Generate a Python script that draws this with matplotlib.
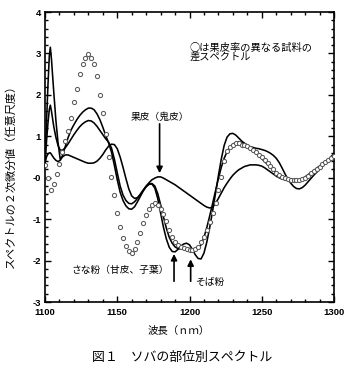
import matplotlib
matplotlib.use("Agg")
import matplotlib.pyplot as plt
import numpy as np

JP = ['Noto Sans CJK JP', 'DejaVu Sans']

# ---------------- data ----------------
line_x = [1100, 1101, 1102, 1103, 1103.7, 1104.5, 1106, 1107.5, 1109, 1110.5] + list(range(1112, 1301, 2))

# spectrum with the high spike near 1104 nm
curve_a = [0.4, 1.3, 2.2, 2.95, 3.15, 2.85, 2.1, 1.4, 0.85, 0.45,
           0.52, 0.75, 0.97, 1.15, 1.28, 1.4, 1.5, 1.58, 1.64, 1.68,
           1.68, 1.64, 1.54, 1.4, 1.22, 1.02, 0.84, 0.62, 0.3, -0.05,
           -0.35, -0.55, -0.68, -0.75, -0.76, -0.7, -0.58, -0.45, -0.32, -0.22,
           -0.16, -0.15, -0.25, -0.5, -0.85, -1.2, -1.48, -1.68, -1.78, -1.79,
           -1.73, -1.65, -1.6, -1.58, -1.62, -1.73, -1.86, -1.95, -1.96, -1.82,
           -1.55, -1.2, -0.8, -0.38, 0.05, 0.45, 0.78, 0.98, 1.06, 1.07,
           1.03, 0.96, 0.89, 0.83, 0.78, 0.75, 0.73, 0.71, 0.7, 0.68,
           0.66, 0.63, 0.59, 0.54, 0.47, 0.37, 0.24, 0.1, -0.03, -0.13,
           -0.21, -0.26, -0.27, -0.24, -0.18, -0.1, -0.02, 0.06, 0.13, 0.2,
           0.28, 0.36, 0.43, 0.51, 0.58]

# spectrum with the medium spike near 1104 nm
curve_b = [0.35, 0.85, 1.3, 1.65, 1.75, 1.6, 1.25, 0.98, 0.78, 0.67,
           0.66, 0.72, 0.82, 0.93, 1.04, 1.14, 1.23, 1.3, 1.35, 1.38,
           1.37, 1.32, 1.24, 1.14, 1.04, 0.94, 0.86, 0.72, 0.45, 0.12,
           -0.2, -0.42, -0.55, -0.62, -0.63, -0.58, -0.5, -0.4, -0.3, -0.21,
           -0.15, -0.14, -0.2, -0.38, -0.65, -0.95, -1.22, -1.44, -1.58, -1.67,
           -1.71, -1.72, -1.71, -1.7, -1.71, -1.74, -1.75, -1.72, -1.62, -1.44,
           -1.2, -0.92, -0.62, -0.32, -0.02, 0.25, 0.47, 0.63, 0.74, 0.81,
           0.85, 0.87, 0.86, 0.83, 0.79, 0.73, 0.67, 0.6, 0.53, 0.46,
           0.39, 0.32, 0.25, 0.18, 0.12, 0.07, 0.03, -0.01, -0.04, -0.06,
           -0.07, -0.07, -0.06, -0.03, 0.01, 0.06, 0.11, 0.17, 0.22, 0.27,
           0.32, 0.37, 0.42, 0.47, 0.52]

# hull (果皮) spectrum
curve_hull = [0.35, 0.5, 0.57, 0.6, 0.6, 0.56, 0.48, 0.42, 0.39, 0.42,
              0.5, 0.55, 0.55, 0.52, 0.49, 0.46, 0.43, 0.4, 0.37, 0.35,
              0.35, 0.36, 0.4, 0.47, 0.56, 0.67, 0.76, 0.81, 0.8, 0.7,
              0.5, 0.25, -0.02, -0.27, -0.44, -0.5, -0.48, -0.4, -0.3, -0.2,
              -0.12, -0.05, -0.01, 0.02, 0.02, -0.01, -0.05, -0.09, -0.13, -0.17,
              -0.22, -0.27, -0.32, -0.37, -0.42, -0.47, -0.52, -0.57, -0.62, -0.67,
              -0.71, -0.73, -0.71, -0.62, -0.5, -0.37, -0.24, -0.13, -0.03, 0.06,
              0.13, 0.19, 0.23, 0.27, 0.29, 0.31, 0.31, 0.31, 0.3, 0.28,
              0.24, 0.19, 0.14, 0.09, 0.04, 0.0, -0.03, -0.05, -0.07, -0.08,
              -0.08, -0.07, -0.05, -0.02, 0.02, 0.07, 0.12, 0.17, 0.23, 0.28,
              0.33, 0.38, 0.43, 0.49, 0.55]

# difference spectrum (circles)
diff_x = list(range(1100, 1301, 2))
diff_y = [0.3, 0.0, -0.3, -0.15, 0.08, 0.33, 0.62, 0.88, 1.12, 1.45,
          1.82, 2.15, 2.5, 2.75, 2.9, 2.98, 2.9, 2.74, 2.45, 2.0,
          1.56, 1.05, 0.51, 0.02, -0.42, -0.85, -1.2, -1.45, -1.66, -1.78,
          -1.81, -1.73, -1.55, -1.34, -1.1, -0.9, -0.76, -0.66, -0.62, -0.66,
          -0.75, -0.88, -1.05, -1.25, -1.42, -1.55, -1.63, -1.67, -1.7, -1.72,
          -1.74, -1.75, -1.73, -1.67, -1.56, -1.42, -1.26, -1.08, -0.85, -0.6,
          -0.3, 0.02, 0.4, 0.65, 0.74, 0.8, 0.83, 0.83, 0.8, 0.78,
          0.76, 0.72, 0.68, 0.62, 0.56, 0.5, 0.43, 0.36, 0.28, 0.2,
          0.12, 0.07, 0.02, -0.01, -0.04, -0.05, -0.06, -0.06, -0.06, -0.04,
          0.0, 0.05, 0.11, 0.16, 0.22, 0.27, 0.32, 0.37, 0.42, 0.47,
          0.52]

x_ticks = [1100, 1150, 1200, 1250, 1300]
y_ticks = [-3, -2, -1, 0, 1, 2, 3, 4]
y_tick_labels = ['-3', '-2', '-1', '-0', '1', '2', '3', '4']

# ---------------- figure ----------------
W, H = 352, 370
fig = plt.figure(figsize=(W / 100, H / 100), dpi=100)
fig.patch.set_facecolor('white')
ax = fig.add_axes([45 / W, 1 - 302 / H, (334 - 45) / W, (302 - 12) / H])

def fx(px):
    return px / W

def fy(py):
    return 1 - py / H

for yy in (curve_a, curve_b, curve_hull):
    ax.plot(line_x, yy, color='black', lw=1.15, solid_joinstyle='round', zorder=3)

ax.plot(diff_x, diff_y, linestyle='none', marker='o', markersize=3.0,
        markerfacecolor='white', markeredgecolor='#5a5a5a', markeredgewidth=0.75, zorder=4)

ax.set_xlim(1100, 1300)
ax.set_ylim(-3, 4)
ax.set_xticks(x_ticks)
ax.set_xticks(list(range(1100, 1301, 10)), minor=True)
ax.set_yticks(y_ticks)
ax.set_yticklabels(y_tick_labels)
ax.set_yticks(list(np.arange(-3, 4.01, 0.2)), minor=True)
ax.tick_params(which='both', direction='in', top=True, right=True, width=1.0)
ax.tick_params(which='major', length=4.0)
ax.tick_params(which='minor', length=2.2)
ax.tick_params(axis='x', which='major', pad=4.5)
ax.tick_params(axis='y', which='major', pad=3.0)
for lab in ax.get_xticklabels() + ax.get_yticklabels():
    lab.set_fontfamily('Liberation Sans')
    lab.set_fontweight('bold')
    lab.set_fontsize(6.8)
for sp in ax.spines.values():
    sp.set_linewidth(1.2)

# arrows
arrow_kw = dict(arrowstyle='-|>', color='black', lw=1.2, mutation_scale=9, shrinkA=0, shrinkB=0)
ax.annotate('', xy=(1179.3, 0.11), xytext=(1179.3, 1.3), arrowprops=arrow_kw)
ax.annotate('', xy=(1189.3, -1.84), xytext=(1189.3, -2.5), arrowprops=arrow_kw)
ax.annotate('', xy=(1200.8, -1.97), xytext=(1200.8, -2.5), arrowprops=arrow_kw)

# texts
fig.text(fx(159.5), fy(117), '果皮（鬼皮）', family=JP, fontsize=7, ha='center', va='center')
fig.text(fx(120.5), fy(270), 'さな粉（甘皮、子葉）', family=JP, fontsize=7, ha='center', va='center')
fig.text(fx(195), fy(282), 'そば粉', family=JP, fontsize=7, ha='left', va='center')
fig.text(fx(190), fy(48), '○は果皮率の異なる試料の', family=JP, fontsize=7.4, ha='left', va='center')
fig.text(fx(190), fy(58), '差スペクトル', family=JP, fontsize=7.4, ha='left', va='center')

fig.text(fx(179), fy(331), '波長（ｎｍ）', family=JP, fontsize=7.5, ha='center', va='center')
fig.text(fx(10), fy(173), 'スペクトルの２次微分値（任意尺度）', family=JP, fontsize=8,
         ha='center', va='center', rotation=90)
fig.text(fx(182), fy(357), '図１　ソバの部位別スペクトル', family=JP, fontsize=9.3, ha='center', va='center')

fig.savefig('out.png', dpi=100)
